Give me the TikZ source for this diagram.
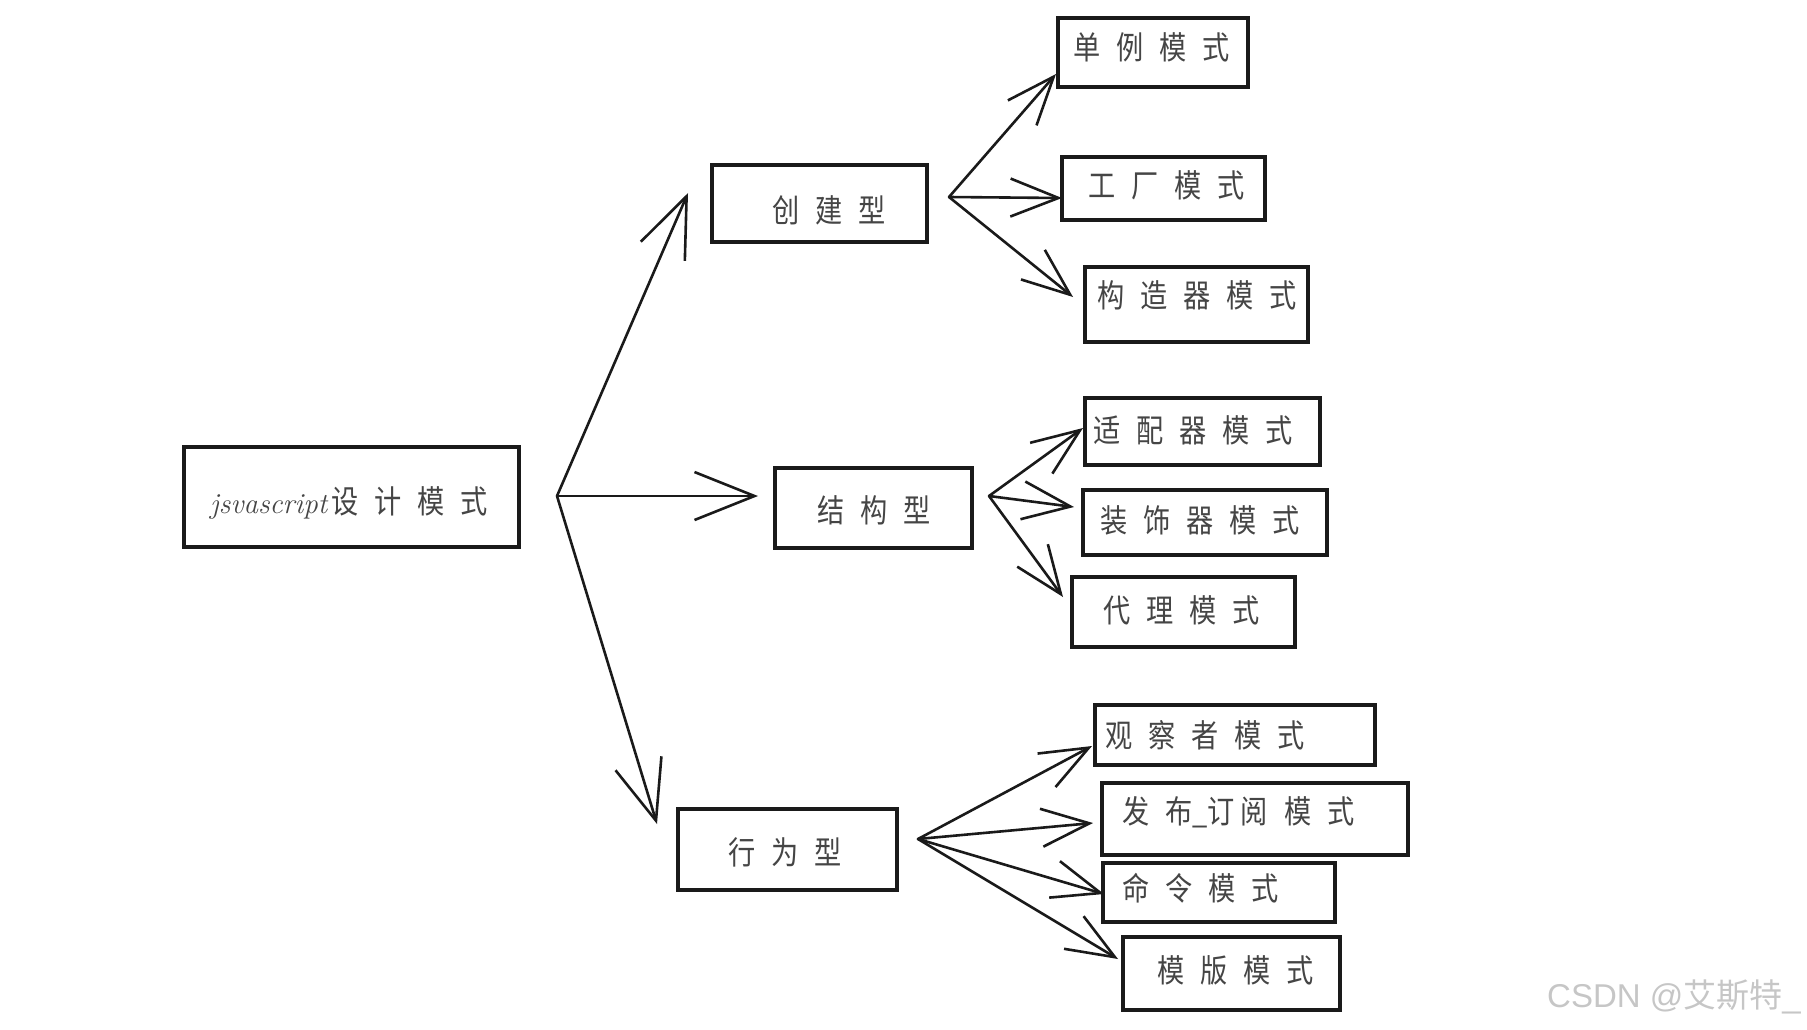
\documentclass[tikz,border=0pt]{standalone}
\usepackage{fontspec}
\newfontfamily\cjk{Noto Sans CJK SC}[FakeStretch=0.85]
\newfontfamily\cjkw{Noto Sans CJK SC}
\newfontfamily\wmfont{Liberation Sans}
\usetikzlibrary{arrows.meta}
\definecolor{ink}{HTML}{1A1A1A}
\definecolor{txt}{HTML}{454545}
\definecolor{wmc}{HTML}{C6C6C6}
\newcommand\gp{\hspace{16pt}}
\begin{document}
\begin{tikzpicture}[x=1pt,y=-1pt,
  box/.style={draw=ink, line width=3.2pt, inner sep=0pt, rectangle,
    postaction={draw=ink, line width=1.2pt, transform canvas={shift={(1.8pt,-1.8pt)}}}},
  lbl/.style={anchor=west, inner sep=0pt, text=txt, font=\cjk\fontsize{32}{34}\selectfont},
  arr/.style={draw=ink, line width=2.6pt, line cap=round, -{Straight Barb[length=48pt,width=38pt]}},
  bigarr/.style={draw=ink, line width=2.6pt, line cap=round, -{Straight Barb[length=60pt,width=48pt]}}]
\path[use as bounding box] (0,0) rectangle (1807,1029);

% boxes
\node[box, minimum width=335pt, minimum height=100pt] (root) at (351.5,497) {};
\node[box, minimum width=215pt, minimum height=77pt] (cre) at (819.5,203.5) {};
\node[box, minimum width=197pt, minimum height=80pt] (str) at (873.5,508) {};
\node[box, minimum width=219pt, minimum height=81pt] (beh) at (787.5,849.5) {};
\node[box, minimum width=190pt, minimum height=69pt] (l1) at (1153,52.5) {};
\node[box, minimum width=203pt, minimum height=63pt] (l2) at (1163.5,188.5) {};
\node[box, minimum width=223pt, minimum height=75pt] (l3) at (1196.5,304.5) {};
\node[box, minimum width=235pt, minimum height=67pt] (l4) at (1202.5,431.5) {};
\node[box, minimum width=244pt, minimum height=65pt] (l5) at (1205,522.5) {};
\node[box, minimum width=223pt, minimum height=70pt] (l6) at (1183.5,612) {};
\node[box, minimum width=280pt, minimum height=60pt] (l7) at (1235,735) {};
\node[box, minimum width=306pt, minimum height=72pt] (l8) at (1255,819) {};
\node[box, minimum width=232pt, minimum height=59pt] (l9) at (1219,892.5) {};
\node[box, minimum width=217pt, minimum height=73pt] (l10) at (1231.5,973.5) {};

% labels
\node[lbl] (root-t) at (210,503) {{\rmfamily\itshape\fontsize{29}{31}\selectfont jsvascript}\hspace{4pt}设\gp 计\gp 模\gp 式};
\node[lbl] (cre-t) at (772,210) {创\gp 建\gp 型};
\node[lbl] (str-t) at (817,510) {结\gp 构\gp 型};
\node[lbl] (beh-t) at (728,852) {行\gp 为\gp 型};
\node[lbl] (l1-t) at (1073,47) {单\gp 例\gp 模\gp 式};
\node[lbl] (l2-t) at (1088,185) {工\gp 厂\gp 模\gp 式};
\node[lbl] (l3-t) at (1097,295) {构\gp 造\gp 器\gp 模\gp 式};
\node[lbl] (l4-t) at (1093,430) {适\gp 配\gp 器\gp 模\gp 式};
\node[lbl] (l5-t) at (1100,520) {装\gp 饰\gp 器\gp 模\gp 式};
\node[lbl] (l6-t) at (1103,610) {代\gp 理\gp 模\gp 式};
\node[lbl] (l7-t) at (1105,735) {观\gp 察\gp 者\gp 模\gp 式};
\node[lbl] (l8-t) at (1122,812) {发\gp 布\_订\hspace{6pt}阅\gp 模\gp 式};
\node[lbl] (l9-t) at (1122,888) {命\gp 令\gp 模\gp 式};
\node[lbl] (l10-t) at (1157,970) {模\gp 版\gp 模\gp 式};

% hubs and tips
\coordinate (h0) at (557,496);
\coordinate (h1) at (949,197);
\coordinate (h2) at (989,496);
\coordinate (h3) at (918,839);
\coordinate (tcre) at (688,193);
\coordinate (tstr) at (758,496);
\coordinate (tbeh) at (657,824);
\coordinate (t1) at (1056,74);
\coordinate (t2) at (1062,198);
\coordinate (t3) at (1073,297);
\coordinate (t4) at (1083,428);
\coordinate (t5) at (1074,507);
\coordinate (t6) at (1063,597);
\coordinate (t7) at (1092,746);
\coordinate (t8) at (1093,823);
\coordinate (t9) at (1104,894);
\coordinate (t10) at (1118,959);

% connectors
\draw[bigarr] (h0) -- (tcre);
\draw[bigarr] (h0) -- (tstr);
\draw[bigarr] (h0) -- (tbeh);
\draw[arr] (h1) -- (t1);
\draw[arr] (h1) -- (t2);
\draw[arr] (h1) -- (t3);
\draw[arr] (h2) -- (t4);
\draw[arr] (h2) -- (t5);
\draw[arr] (h2) -- (t6);
\draw[arr] (h3) -- (t7);
\draw[arr] (h3) -- (t8);
\draw[arr] (h3) -- (t9);
\draw[arr] (h3) -- (t10);

% watermark
\node[anchor=west, inner sep=0pt, text=wmc, font=\wmfont\fontsize{33}{35}\selectfont] (wm) at (1547,997) {CSDN @{\cjkw 艾斯特}\_};
\end{tikzpicture}
\end{document}
